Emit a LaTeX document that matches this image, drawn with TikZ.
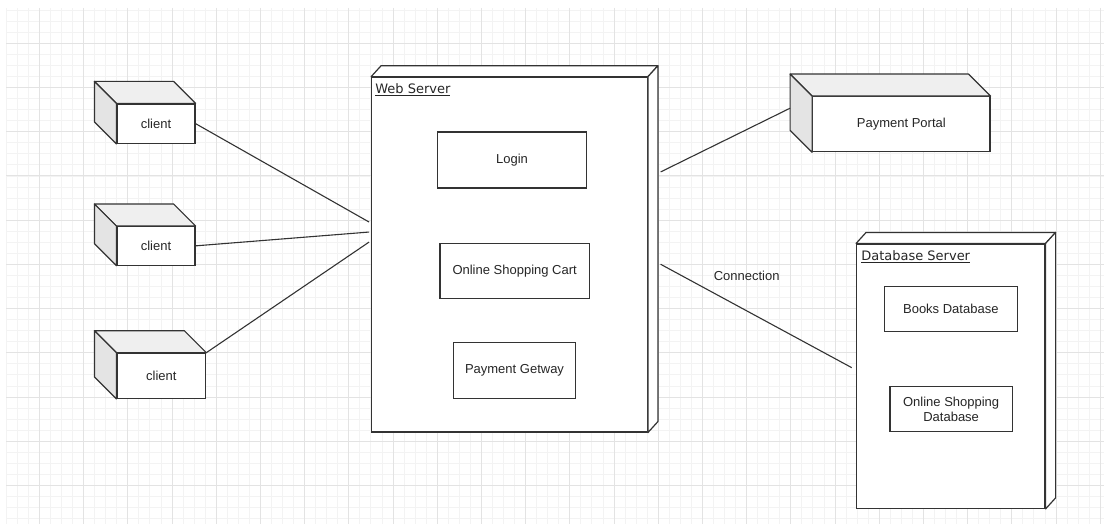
\documentclass[tikz,border=0pt]{standalone}
\usepackage{fontspec}
\setmainfont{Liberation Sans}
\newfontfamily\labelfont{DejaVu Sans}
\usetikzlibrary{calc}
\definecolor{ln}{HTML}{333333}
\definecolor{topface}{HTML}{EFEFEF}
\definecolor{sideface}{HTML}{E4E4E4}
\definecolor{gridminor}{HTML}{F3F3F3}
\definecolor{gridmajor}{HTML}{E3E3E3}

% faces of a device cube that recedes to the upper left
\newcommand{\devicefaces}[2]{%
  \filldraw[face, fill=topface] (#1.north west) -- ++(-#2,-#2)
    -- ($(#1.north east)+(-#2,-#2)$) -- (#1.north east) -- cycle;
  \filldraw[face, fill=sideface] (#1.north west) -- ++(-#2,-#2)
    -- ($(#1.south west)+(-#2,-#2)$) -- (#1.south west) -- cycle;}
% faces of a server node that recedes to the upper right
\newcommand{\serverfaces}[1]{%
  \filldraw[face, fill=white] (#1.north west) -- ++(10,-11)
    -- ($(#1.north east)+(10,-11)$) -- (#1.north east) -- cycle;
  \filldraw[face, fill=white] (#1.north east) -- ++(10,-11)
    -- ($(#1.south east)+(10,-11)$) -- (#1.south east) -- cycle;}

\begin{document}
\begin{tikzpicture}[x=1pt,y=-1pt,
  face/.style={draw=ln, line width=1.2pt, line join=round},
  box/.style={draw=ln, fill=white, line width=1.1pt, rectangle, inner sep=0pt,
    font=\fontsize{13}{15.5}\selectfont, text=black!85, align=center},
  front/.style={box, line width=1.2pt},
  srvlabel/.style={anchor=base west, inner sep=0pt, text=black!85,
    font=\labelfont\fontsize{13}{15}\selectfont},
  link/.style={draw=ln, line width=1.1pt},
]
\useasboundingbox (0,0) rectangle (1104,524);

% background grid
\begin{scope}
  \clip (6,8) rectangle (1104,524);
  \foreach \i in {0,...,99}
    \draw[gridminor, line width=0.7pt] ({6.15+11.05*\i},8) -- ++(0,520);
  \foreach \i in {-1,...,47}
    \draw[gridminor, line width=0.7pt] (6,{10.15+11.05*\i}) -- ++(1100,0);
  \foreach \i in {0,...,24}
    \draw[gridmajor, line width=0.8pt] ({39.3+44.2*\i},8) -- ++(0,520);
  \foreach \i in {0,...,11}
    \draw[gridmajor, line width=0.8pt] (6,{43.3+44.2*\i}) -- ++(1100,0);
\end{scope}

% clients
\node[front, minimum width=78, minimum height=39.3] (c1) at (156,123.65) {client};
\devicefaces{c1}{22}
\node[front, minimum width=78, minimum height=38.5] (c2) at (156,245.85) {client};
\devicefaces{c2}{22}
\node[front, minimum width=88.7, minimum height=45] (c3) at (161.35,375.8) {client};
\devicefaces{c3}{22}

% payment portal
\node[front, minimum width=177.3, minimum height=55] (pp) at (901.35,124.2) {Payment Portal};
\devicefaces{pp}{22}

% web server
\node[front, minimum width=275.6, minimum height=354.7] (ws) at (509.5,254.65) {};
\serverfaces{ws}
\node[srvlabel] (wslabel) at ([shift={(4,17)}]ws.north west) {\underline{Web Server}};
\node[box, minimum width=149.4, minimum height=56] (login) at (512,160) {Login};
\node[box, minimum width=149.3, minimum height=55] (cart) at (514.65,270.8) {Online Shopping Cart};
\node[box, minimum width=122.4, minimum height=55.6] (gw) at (514.5,370.5) {Payment Getway};

% database server
\node[front, minimum width=188.3, minimum height=264.3] (db) at (950.85,376.15) {};
\serverfaces{db}
\node[srvlabel] (dblabel) at ([shift={(5,17.5)}]db.north west) {\underline{Database Server}};
\node[box, minimum width=133, minimum height=44.3] (books) at (950.8,308.9) {Books Database};
\node[box, minimum width=122.3, minimum height=45] (osd) at (951.15,409.2) {Online Shopping\\Database};

% connectors
\draw[link] (c1.east) -- ([shift={(-2,-32.6)}]ws.west);
\draw[link] (c2.east) -- ([shift={(-2,-22.6)}]ws.west);
\draw[link] (c3.north east) -- ([shift={(-2,-12.6)}]ws.west);
\draw[link] ([shift={(12.7,-82.7)}]ws.east) -- ([shift={(-22,-16)}]pp.west);
\draw[link] ([shift={(12.7,9.6)}]ws.east) -- ([shift={(-4.4,-8.5)}]db.west);
\node[font=\fontsize{13}{15.5}\selectfont, text=black!85, inner sep=0pt] (connlabel) at (746.7,276) {Connection};
\end{tikzpicture}
\end{document}
